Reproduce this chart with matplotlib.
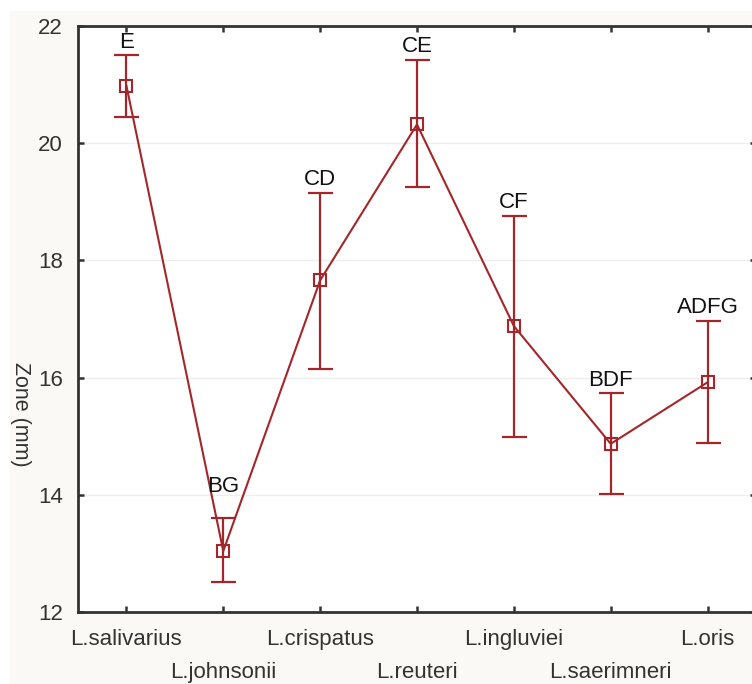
import numpy as np
import matplotlib
matplotlib.use("Agg")
import matplotlib.pyplot as plt
from matplotlib.patches import Rectangle

plt.rcParams['font.family'] = ['Liberation Sans', 'DejaVu Sans']

strains = ["L.salivarius", "L.johnsonii", "L.crispatus", "L.reuteri",
           "L.ingluviei", "L.saerimneri", "L.oris"]
means = [20.98, 13.04, 17.66, 20.32, 16.88, 14.87, 15.92]
upper = [21.50, 13.60, 19.15, 21.42, 18.76, 15.73, 16.97]
lower = [20.45, 12.51, 16.15, 19.26, 14.98, 14.02, 14.89]
groups = ["E", "BG", "CD", "CE", "CF", "BDF", "ADFG"]

red = "#a3262a"
dark = "#333333"

fig = plt.figure(figsize=(7.52, 6.84), dpi=100, facecolor="white")
fig.patches.append(Rectangle((10 / 752, 0), 1, 1 - 11 / 684,
                             transform=fig.transFigure, color="#faf9f5", zorder=-10))

ax = fig.add_axes([78 / 752, 72 / 684, 678 / 752, 586 / 684])
ax.set_facecolor("white")

x = np.arange(len(strains))
m = np.array(means)
err = [m - np.array(lower), np.array(upper) - m]

ax.plot(x, m, color=red, lw=1.5, zorder=3)
ax.errorbar(x, m, yerr=err, fmt="none", ecolor=red, elinewidth=1.6,
            capsize=9, capthick=1.6, zorder=3)
ax.plot(x, m, ls="none", marker="s", ms=8, mfc="none", mec=red, mew=1.5, zorder=4)

# group letters above the upper bars
for i, g in enumerate(groups):
    off = 15 if g == "BG" else 2
    ax.annotate(g, (x[i], upper[i]), xytext=(0, off), textcoords="offset points",
                ha="center", va="bottom", fontsize=16, color="#111111")

ax.set_xlim(-0.5, len(strains) - 0.5)
ax.set_ylim(12, 22)
ax.set_yticks([12, 14, 16, 18, 20, 22])
# staggered category labels: even ones on major ticks, odd ones on minor ticks one row lower
ax.set_xticks(x[::2], strains[::2])
ax.set_xticks(x[1::2], strains[1::2], minor=True)
ax.grid(axis="y", color="#eeeeee", lw=1)
ax.set_axisbelow(True)

ax.tick_params(which="both", direction="in", length=4, width=1.8, color=dark,
               labelcolor=dark, labelsize=16, top=True, right=True, pad=11)
ax.tick_params(axis="x", which="major", pad=12)
ax.tick_params(axis="x", which="minor", pad=36)
for sp in ax.spines.values():
    sp.set_color(dark)
    sp.set_linewidth(2)

fig.text(20 / 752, 1 - 414 / 684, "Zone (mm)", rotation=-90, ha="center", va="center",
         fontsize=15.5, color=dark)

fig.savefig("out.png", dpi=100, facecolor=fig.get_facecolor())
